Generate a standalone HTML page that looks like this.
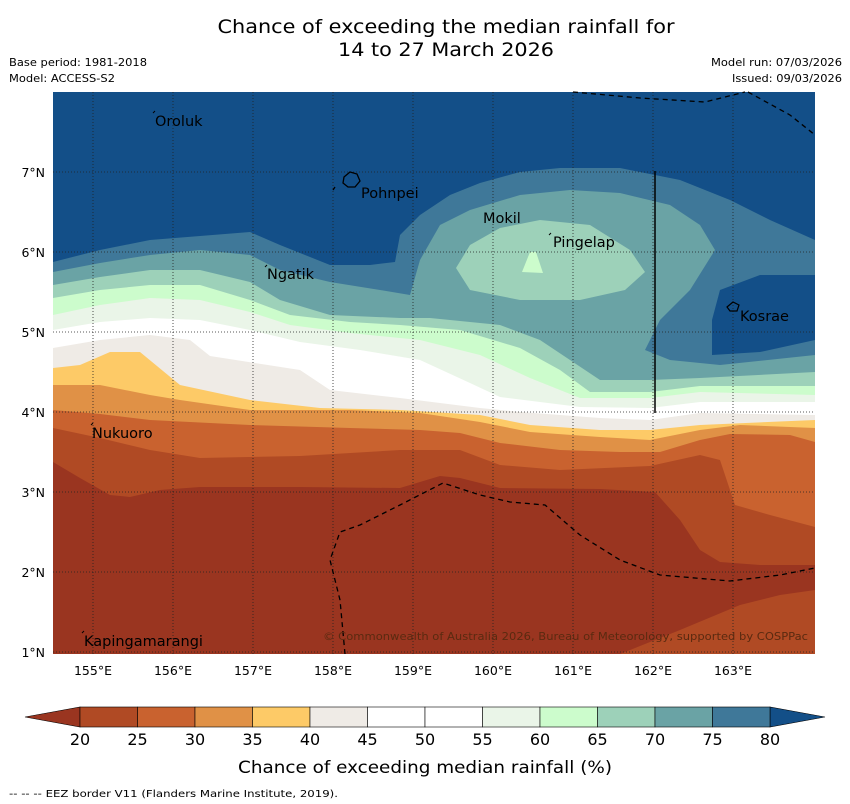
<!DOCTYPE html>
<html><head><meta charset="utf-8"><style>
body{margin:0;background:#fff;width:850px;height:804px;overflow:hidden;font-family:"DejaVu Sans",sans-serif}
svg{display:block}
</style></head><body>
<svg id="chart" width="850" height="804" xmlns="http://www.w3.org/2000/svg" font-family="DejaVu Sans, sans-serif">
<text x="446" y="33" font-size="19" text-anchor="middle" textLength="457" lengthAdjust="spacingAndGlyphs">Chance of exceeding the median rainfall for</text>
<text x="446" y="56" font-size="19" text-anchor="middle" textLength="216" lengthAdjust="spacingAndGlyphs">14 to 27 March 2026</text>
<text x="9" y="66" font-size="11" textLength="138" lengthAdjust="spacingAndGlyphs">Base period: 1981-2018</text>
<text x="9" y="82" font-size="11" textLength="106" lengthAdjust="spacingAndGlyphs">Model: ACCESS-S2</text>
<text x="842" y="66" font-size="11" text-anchor="end" textLength="131" lengthAdjust="spacingAndGlyphs">Model run: 07/03/2026</text>
<text x="842" y="82" font-size="11" text-anchor="end" textLength="110" lengthAdjust="spacingAndGlyphs">Issued: 09/03/2026</text>
<defs><clipPath id="mc"><rect x="53" y="92" width="762" height="562"/></clipPath></defs>
<g id="map" clip-path="url(#mc)"></g>
<g id="overlay"></g>
<g id="cbar"></g>
<text x="425" y="773" font-size="17" text-anchor="middle" textLength="374" lengthAdjust="spacingAndGlyphs">Chance of exceeding median rainfall (%)</text>
<text x="9" y="797" font-size="10" textLength="329" lengthAdjust="spacingAndGlyphs">--  --  -- EEZ border V11 (Flanders Marine Institute, 2019).</text>
</svg>
<script>
const levels=[20,25,30,35,40,45,50,55,60,65,70,75,80];
const bandColors=["#b04a24","#c9622f","#e09146","#fdca67","#efebe6","#ffffff","#ffffff","#eaf5e8","#ccfccc","#9dd1b9","#6aa3a5","#3f7899"];
const underColor="#9a3520";
const overColor="#134f88";
const lonTicks=[155,156,157,158,159,160,161,162,163];
const latTicks=[1,2,3,4,5,6,7];
const contours=[
 [20,[[53,462],[80,478],[110,495],[130,497],[160,490],[200,487],[300,487],[400,488],[440,476],[460,478],[500,488],[600,489],[655,492],[680,520],[700,550],[720,562],[760,565],[815,565]]],
 [25,[[53,428],[100,438],[150,450],[200,458],[300,456],[400,450],[460,450],[500,465],[560,470],[650,466],[700,455],[720,460],[735,505],[770,515],[815,527]]],
 [30,[[53,410],[100,414],[150,420],[250,425],[350,428],[420,430],[460,433],[500,443],[560,450],[620,452],[660,452],[700,440],[730,434],[790,435],[815,442]]],
 [35,[[53,385],[100,385],[150,395],[180,400],[250,410],[350,410],[420,413],[480,422],[530,432],[600,437],[650,440],[700,430],[740,425],[815,428]]],
 [40,[[53,368],[80,365],[110,352],[140,352],[180,385],[250,400],[320,408],[400,410],[480,415],[530,425],[600,430],[650,430],[700,425],[815,420]]],
 [45,[[53,348],[100,340],[150,335],[190,340],[210,356],[300,370],[330,390],[400,398],[480,408],[520,412],[600,418],[650,420],[700,413],[815,415]]],
 [55,[[53,330],[100,322],[150,318],[200,320],[250,330],[300,342],[360,350],[420,360],[470,383],[500,397],[580,407],[650,408],[700,402],[815,402]]],
 [60,[[53,315],[100,305],[150,298],[200,300],[250,312],[290,325],[350,333],[420,340],[480,355],[530,378],[580,398],[650,398],[700,392],[815,395]]],
 [65,[[53,298],[100,290],[150,285],[200,285],[250,300],[290,315],[350,322],[400,325],[460,330],[520,348],[560,370],[590,392],[650,392],[700,386],[815,386]]],
 [70,[[53,285],[100,277],[150,270],[200,270],[250,282],[280,300],[330,315],[400,318],[430,318],[500,325],[540,340],[570,360],[600,380],[650,380],[700,378],[815,372]]],
 [75,[[53,272],[100,263],[150,255],[200,250],[250,255],[280,270],[330,282],[380,290],[410,295],[420,260],[440,225],[470,210],[520,195],[570,190],[620,193],[670,205],[700,225],[715,250],[690,290],[660,320],[645,350],[670,360],[720,365],[815,355]]],
 [80,[[53,262],[100,250],[150,240],[200,236],[250,232],[280,245],[330,265],[370,265],[395,262],[400,235],[420,215],[450,195],[480,183],[520,172],[560,168],[620,168],[680,180],[730,200],[770,220],[815,240]]]
];
const patches=[
 [20,[[620,654],[680,630],[740,605],[780,595],[815,590],[815,654]]],
 [80,[[815,275],[760,275],[720,290],[712,320],[712,355],[760,352],[815,340]]],
 [65,[[456,268],[470,245],[500,228],[540,220],[590,225],[630,250],[645,272],[625,290],[580,300],[520,300],[470,290]]],
 [60,[[522,272],[530,252],[536,252],[543,273]]]
];
const NS="http://www.w3.org/2000/svg";
const lonX=l=>93+(l-155)*80;
const latY=l=>652-(l-1)*80;
function colorFor(v){const i=levels.indexOf(v);return i<bandColors.length?bandColors[i]:overColor;}
const map=document.getElementById('map');
function mk(tag,attrs,parent){const e=document.createElementNS(NS,tag);for(const k in attrs)e.setAttribute(k,attrs[k]);parent.appendChild(e);return e;}
const bg=mk('rect',{x:53,y:92,width:762,height:562,fill:underColor},map);


contours.forEach(([v,pts])=>{
 const all=pts.concat([[815,92],[53,92]]);
 const p=mk('polygon',{points:all.map(q=>q.join(',')).join(' '),fill:colorFor(v)},map);
 
 
});
patches.forEach(([v,pts])=>{
 const p=mk('polygon',{points:pts.map(q=>q.join(',')).join(' '),fill:colorFor(v)},map);
 
 
});
const ov=document.getElementById('overlay');
lonTicks.forEach(l=>{
 const g=mk('line',{x1:lonX(l),x2:lonX(l),y1:92,y2:654,stroke:'#222','stroke-width':0.8,'stroke-dasharray':'1,2'},ov);
 
 
 const t=mk('text',{x:lonX(l),y:675,'font-size':12.5,'text-anchor':'middle'},ov);t.textContent=l+'°E';
 
 
});
latTicks.forEach(l=>{
 const g=mk('line',{x1:53,x2:815,y1:latY(l),y2:latY(l),stroke:'#222','stroke-width':0.8,'stroke-dasharray':'1,2'},ov);
 
 
 const t=mk('text',{x:45,y:latY(l)+5,'font-size':12.5,'text-anchor':'end'},ov);t.textContent=l+'°N';
 
 
});
const eez=[
 "M573,92 L640,98 L705,102 L745,92",
 "M748,92 L790,115 L815,135",
 "M345,654 L340,600 L330,560 L340,532 L360,525 L400,505 L443,483 L480,495 L510,502 L545,505 L580,535 L620,560 L660,575 L730,581 L780,575 L815,568"
];
eez.forEach(d=>{const e=mk('path',{d:d,fill:'none',stroke:'#000','stroke-width':1.3,'stroke-dasharray':'5,4'},ov);
 
 });
const vl=mk('line',{x1:655,x2:655,y1:171,y2:413,stroke:'#000','stroke-width':1.5},ov);


const isl=[["Oroluk",155,126,153,113],["Pohnpei",361,198,null,null],["Mokil",483,223,null,null],["Pingelap",553,247,549,235],["Ngatik",267,279,265,267],["Kosrae",740,321,null,null],["Nukuoro",92,438,91,425],["Kapingamarangi",84,646,82,633]];
isl.forEach(([n,x,y,mx,my])=>{
 const t=mk('text',{x:x,y:y,'font-size':14.5},ov);t.textContent=n;
 
 
 if(mx!==null){const m=mk('line',{x1:mx,y1:my,x2:mx+2,y2:my-2,stroke:'#000','stroke-width':1},ov);
  
  }
});
const pon=mk('path',{d:"M344,177 L350,172 L357,174 L360,181 L355,187 L348,187 L343,183 Z M333,190 L335,187",fill:'none',stroke:'#000','stroke-width':1.3},ov);


const kos=mk('path',{d:"M727,307 L733,302 L739,305 L737,311 L730,311 Z",fill:'none',stroke:'#000','stroke-width':1.2},ov);


const cp=mk('text',{x:808,y:640,'font-size':11,'text-anchor':'end',fill:'#5a2a10',textLength:485,lengthAdjust:'spacingAndGlyphs'},ov);
cp.textContent='© Commonwealth of Australia 2026, Bureau of Meteorology, supported by COSPPac';


const cb=document.getElementById('cbar');
const cbX=v=>80+(v-20)*(690/60);
const y0=707,y1=727;
const lt=mk('polygon',{points:`25,717 ${cbX(20)},${y0} ${cbX(20)},${y1}`,fill:underColor,stroke:'#000','stroke-width':0.6},cb);


const rt=mk('polygon',{points:`825,717 ${cbX(80)},${y0} ${cbX(80)},${y1}`,fill:overColor,stroke:'#000','stroke-width':0.6},cb);


for(let i=0;i<bandColors.length;i++){
 const r=mk('rect',{x:cbX(levels[i]),y:y0,width:cbX(levels[i+1])-cbX(levels[i]),height:y1-y0,fill:bandColors[i],stroke:'#000','stroke-width':0.6},cb);
 
 
}
levels.forEach(v=>{
 const t=mk('text',{x:cbX(v),y:745,'font-size':16,'text-anchor':'middle'},cb);t.textContent=v;
 
 
});
</script>
</body></html>
